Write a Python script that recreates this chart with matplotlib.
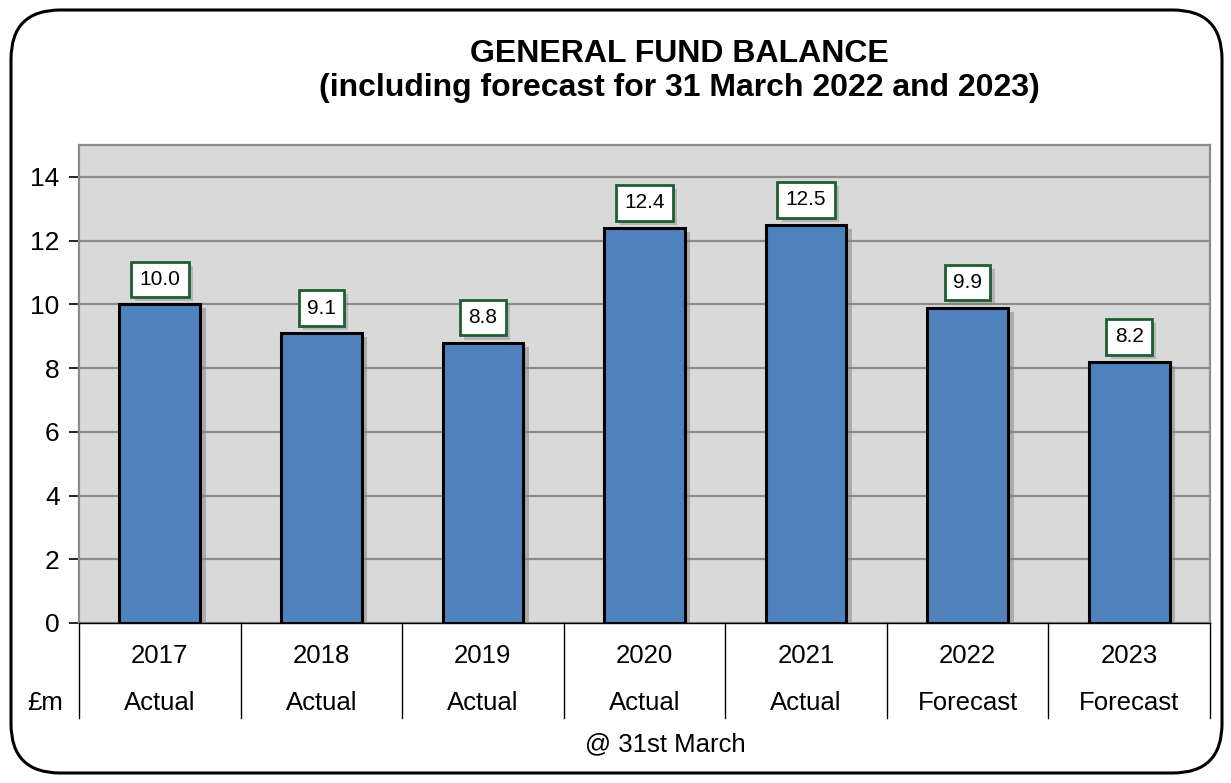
import matplotlib
import numpy as np

matplotlib.use("Agg")
from matplotlib import pyplot as plt  # noqa: E402
from matplotlib import patheffects as pe  # noqa: E402
from matplotlib import transforms  # noqa: E402
from matplotlib.patches import FancyBboxPatch  # noqa: E402

plt.rcParams["font.family"] = ["Liberation Sans", "DejaVu Sans"]

years = ["2017", "2018", "2019", "2020", "2021", "2022", "2023"]
kinds = ["Actual", "Actual", "Actual", "Actual", "Actual", "Forecast", "Forecast"]
balance = [10.0, 9.1, 8.8, 12.4, 12.5, 9.9, 8.2]

W, H = 1231, 783
fig = plt.figure(figsize=(W / 100, H / 100), dpi=100)

# rounded outer frame
frame = FancyBboxPatch((11 / W, 10 / H), (1222 - 11) / W, (773 - 10) / H,
                       boxstyle="round,pad=0,rounding_size=0.04",
                       transform=fig.transFigure, facecolor="none",
                       edgecolor="black", linewidth=2.2, mutation_aspect=W / H)
fig.patches.append(frame)

left, right, top, bottom = 79, 1210, 145, 623
ax = fig.add_axes([left / W, 1 - bottom / H, (right - left) / W, (bottom - top) / H])
ax.set_facecolor("#D9D9D9")

x = np.arange(len(years))
shadow = [pe.SimplePatchShadow(offset=(4, -3), shadow_rgbFace="#7f7f7f", alpha=0.5), pe.Normal()]
bars = ax.bar(x, balance, width=0.5, color="#4F81BD", edgecolor="black", linewidth=2.2, zorder=3)
for b in bars:
    b.set_path_effects(shadow)

for xi, v in zip(x, balance):
    t = ax.annotate(f"{v:.1f}", (xi, v), xytext=(0, 18), textcoords="offset points",
                    ha="center", va="center", fontsize=15, zorder=5,
                    bbox=dict(boxstyle="square,pad=0.4", facecolor="white",
                              edgecolor="#1E5E32", linewidth=2))
    t.get_bbox_patch().set_path_effects(
        [pe.SimplePatchShadow(offset=(3, -3), shadow_rgbFace="#7f7f7f", alpha=0.4), pe.Normal()])

ax.set_xlim(-0.5, len(years) - 0.5)
ax.set_ylim(0, 15)
ax.set_yticks(range(0, 15, 2))
ax.yaxis.grid(True, color="#8C8C8C", linewidth=1.6)
ax.set_axisbelow(True)
ax.tick_params(axis="y", labelsize=19, length=7, width=1.2, pad=7)
ax.set_xticks([])
for side in ("top", "right", "left"):
    ax.spines[side].set_color("#8C8C8C")
    ax.spines[side].set_linewidth(1.6)
ax.spines["bottom"].set_color("black")
ax.spines["bottom"].set_linewidth(1.0)

# category axis below
trans = transforms.blended_transform_factory(ax.transData, ax.transAxes)
depth = -(718 - bottom) / (bottom - top)
for xb in np.arange(-0.5, len(years), 1.0):
    ax.plot([xb, xb], [0, depth], transform=trans, color="black", linewidth=1.0, clip_on=False)
for xi, yr, kd in zip(x, years, kinds):
    ax.text(xi, -(656 - bottom) / (bottom - top), yr, transform=trans,
            ha="center", va="center", fontsize=18.5)
    ax.text(xi, -(703 - bottom) / (bottom - top), kd, transform=trans,
            ha="center", va="center", fontsize=18.5)

fig.text(45 / W, 1 - 703 / H, "£m", ha="center", va="center", fontsize=18.5)
fig.text(665 / W, 1 - 744 / H, "@ 31st March", ha="center", va="center", fontsize=18.5)
fig.text(679 / W, 1 - 71 / H, "GENERAL FUND BALANCE\n(including forecast for 31 March 2022 and 2023)",
         ha="center", va="center", fontsize=23, fontweight="bold", linespacing=1.15)

fig.savefig("out.png", dpi=100)
